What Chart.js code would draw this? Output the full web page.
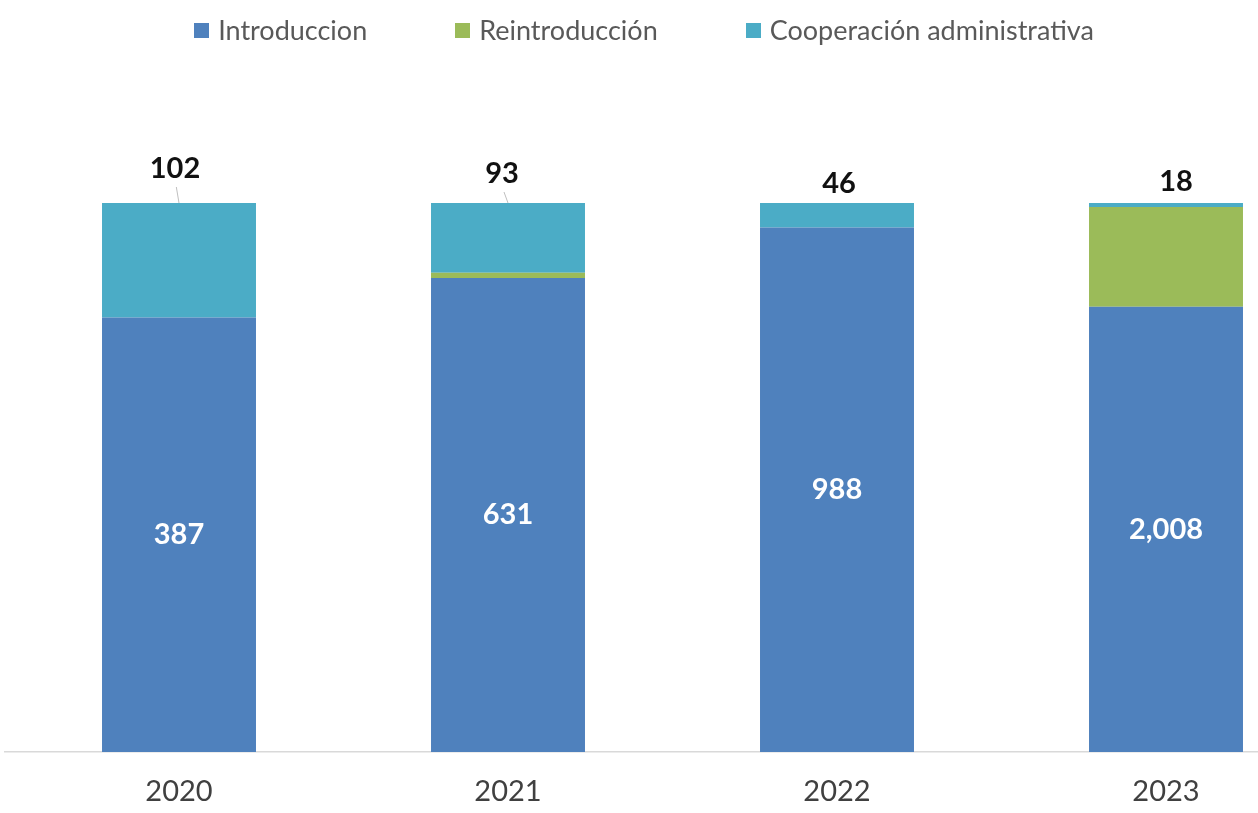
<!DOCTYPE html>
<html>
<head>
<meta charset="utf-8">
<script src="https://cdn.jsdelivr.net/npm/chart.js@4/dist/chart.umd.min.js"></script>
<style>
    html, body { margin: 0; padding: 0; background: #fff; overflow: hidden; }
    #wrap { position: relative; width: 1258px; height: 813px; }
    #legend {
        position: absolute; top: 13px; left: 0; width: 1288px;
        display: flex; justify-content: center; gap: 88px;
        font-family: Lato, "Open Sans", sans-serif;
        font-size: 27px; line-height: 34px; color: #595959;
    }
    #legend .item { display: flex; align-items: center; white-space: nowrap; }
    #legend .box { width: 15px; height: 15px; margin-right: 9px; }
</style>
</head>
<body>
<div id="wrap">
    <div id="legend"></div>
    <canvas id="chart" width="1258" height="813"></canvas>
</div>
<script>
// --- Data ---
const years = ['2020', '2021', '2022', '2023'];
const introduccion = [387, 631, 988, 2008];
const reintroduccion = [0, 7, 0, 450];
const cooperacion = [102, 93, 46, 18];
const seriesNames = ['Introduccion', 'Reintroducción', 'Cooperación administrativa'];
const seriesColors = ['#4F81BD', '#9BBB59', '#4BACC6'];

const FONT = 'Lato, "Open Sans", sans-serif';

// bars are shares of the yearly total (100% stacked)
const totals = years.map((_, i) => introduccion[i] + reintroduccion[i] + cooperacion[i]);
function shares(values) {
    return values.map((v, i) => ({ x: i, y: v / totals[i] * 100 }));
}

// legend
const legendEl = document.getElementById('legend');
seriesNames.forEach((name, i) => {
    const item = document.createElement('div');
    item.className = 'item';
    const box = document.createElement('span');
    box.className = 'box';
    box.style.background = seriesColors[i];
    item.appendChild(box);
    item.appendChild(document.createTextNode(name));
    legendEl.appendChild(item);
});

// value labels: intro inside the bar, cooperacion above it
const labelOffsets = [[-4, -34], [-6, -29], [2, -19], [10, -21]];

const valueLabels = {
    id: 'valueLabels',
    afterDatasetsDraw(chart) {
        const ctx = chart.ctx;
        const introMeta = chart.getDatasetMeta(0);
        const coopMeta = chart.getDatasetMeta(2);
        ctx.save();
        ctx.textAlign = 'center';
        ctx.textBaseline = 'middle';
        ctx.font = 'bold 29px ' + FONT;
        ctx.fillStyle = '#ffffff';
        introMeta.data.forEach((bar, i) => {
            ctx.fillText(introduccion[i].toLocaleString('en-US'), bar.x, (bar.y + bar.base) / 2);
        });
        coopMeta.data.forEach((bar, i) => {
            const [dx, dy] = labelOffsets[i];
            const lx = bar.x + dx;
            const ly = bar.y + dy;
            if (dy < -25) {
                // leader line
                ctx.strokeStyle = '#bfbfbf';
                ctx.lineWidth = 1;
                ctx.beginPath();
                ctx.moveTo(bar.x, bar.y);
                ctx.lineTo(lx + (bar.x - lx) / 3, ly + 18);
                ctx.stroke();
            }
            ctx.fillStyle = '#111111';
            ctx.fillText(cooperacion[i].toLocaleString('en-US'), lx, ly);
        });
        ctx.restore();
    },
};

// x positions: category i sits at 179 + 329 * i px
const padLeft = 5;
const step = 329;
const xMin = -(179 - padLeft) / step;
const xMax = xMin + (1258 - padLeft) / step;

new Chart(document.getElementById('chart'), {
    type: 'bar',
    data: {
        datasets: [
            { label: seriesNames[0], data: shares(introduccion), backgroundColor: seriesColors[0] },
            { label: seriesNames[1], data: shares(reintroduccion), backgroundColor: seriesColors[1] },
            { label: seriesNames[2], data: shares(cooperacion), backgroundColor: seriesColors[2] },
        ],
    },
    options: {
        responsive: false,
        animation: false,
        layout: { padding: { top: 203, left: padLeft, right: 0, bottom: 0 } },
        datasets: {
            bar: { categoryPercentage: 1, barPercentage: 0.468, borderWidth: 0 },
        },
        plugins: {
            legend: { display: false },
            tooltip: { enabled: false },
        },
        scales: {
            x: {
                type: 'linear',
                stacked: true,
                offset: false,
                min: xMin,
                max: xMax,
                grid: { display: false, drawTicks: false },
                border: { color: '#d9d9d9', width: 1.5 },
                ticks: {
                    stepSize: 1,
                    includeBounds: false,
                    padding: 22,
                    color: '#404040',
                    font: { family: FONT, size: 29 },
                    autoSkip: false,
                    maxRotation: 0,
                    callback: (v) => (Number.isInteger(v) && years[v]) ? years[v] : '',
                },
                afterFit: (scale) => { scale.height = 61; },
            },
            y: {
                stacked: true,
                display: false,
                min: 0,
                max: 100,
            },
        },
    },
    plugins: [valueLabels],
});
</script>
</body>
</html>
